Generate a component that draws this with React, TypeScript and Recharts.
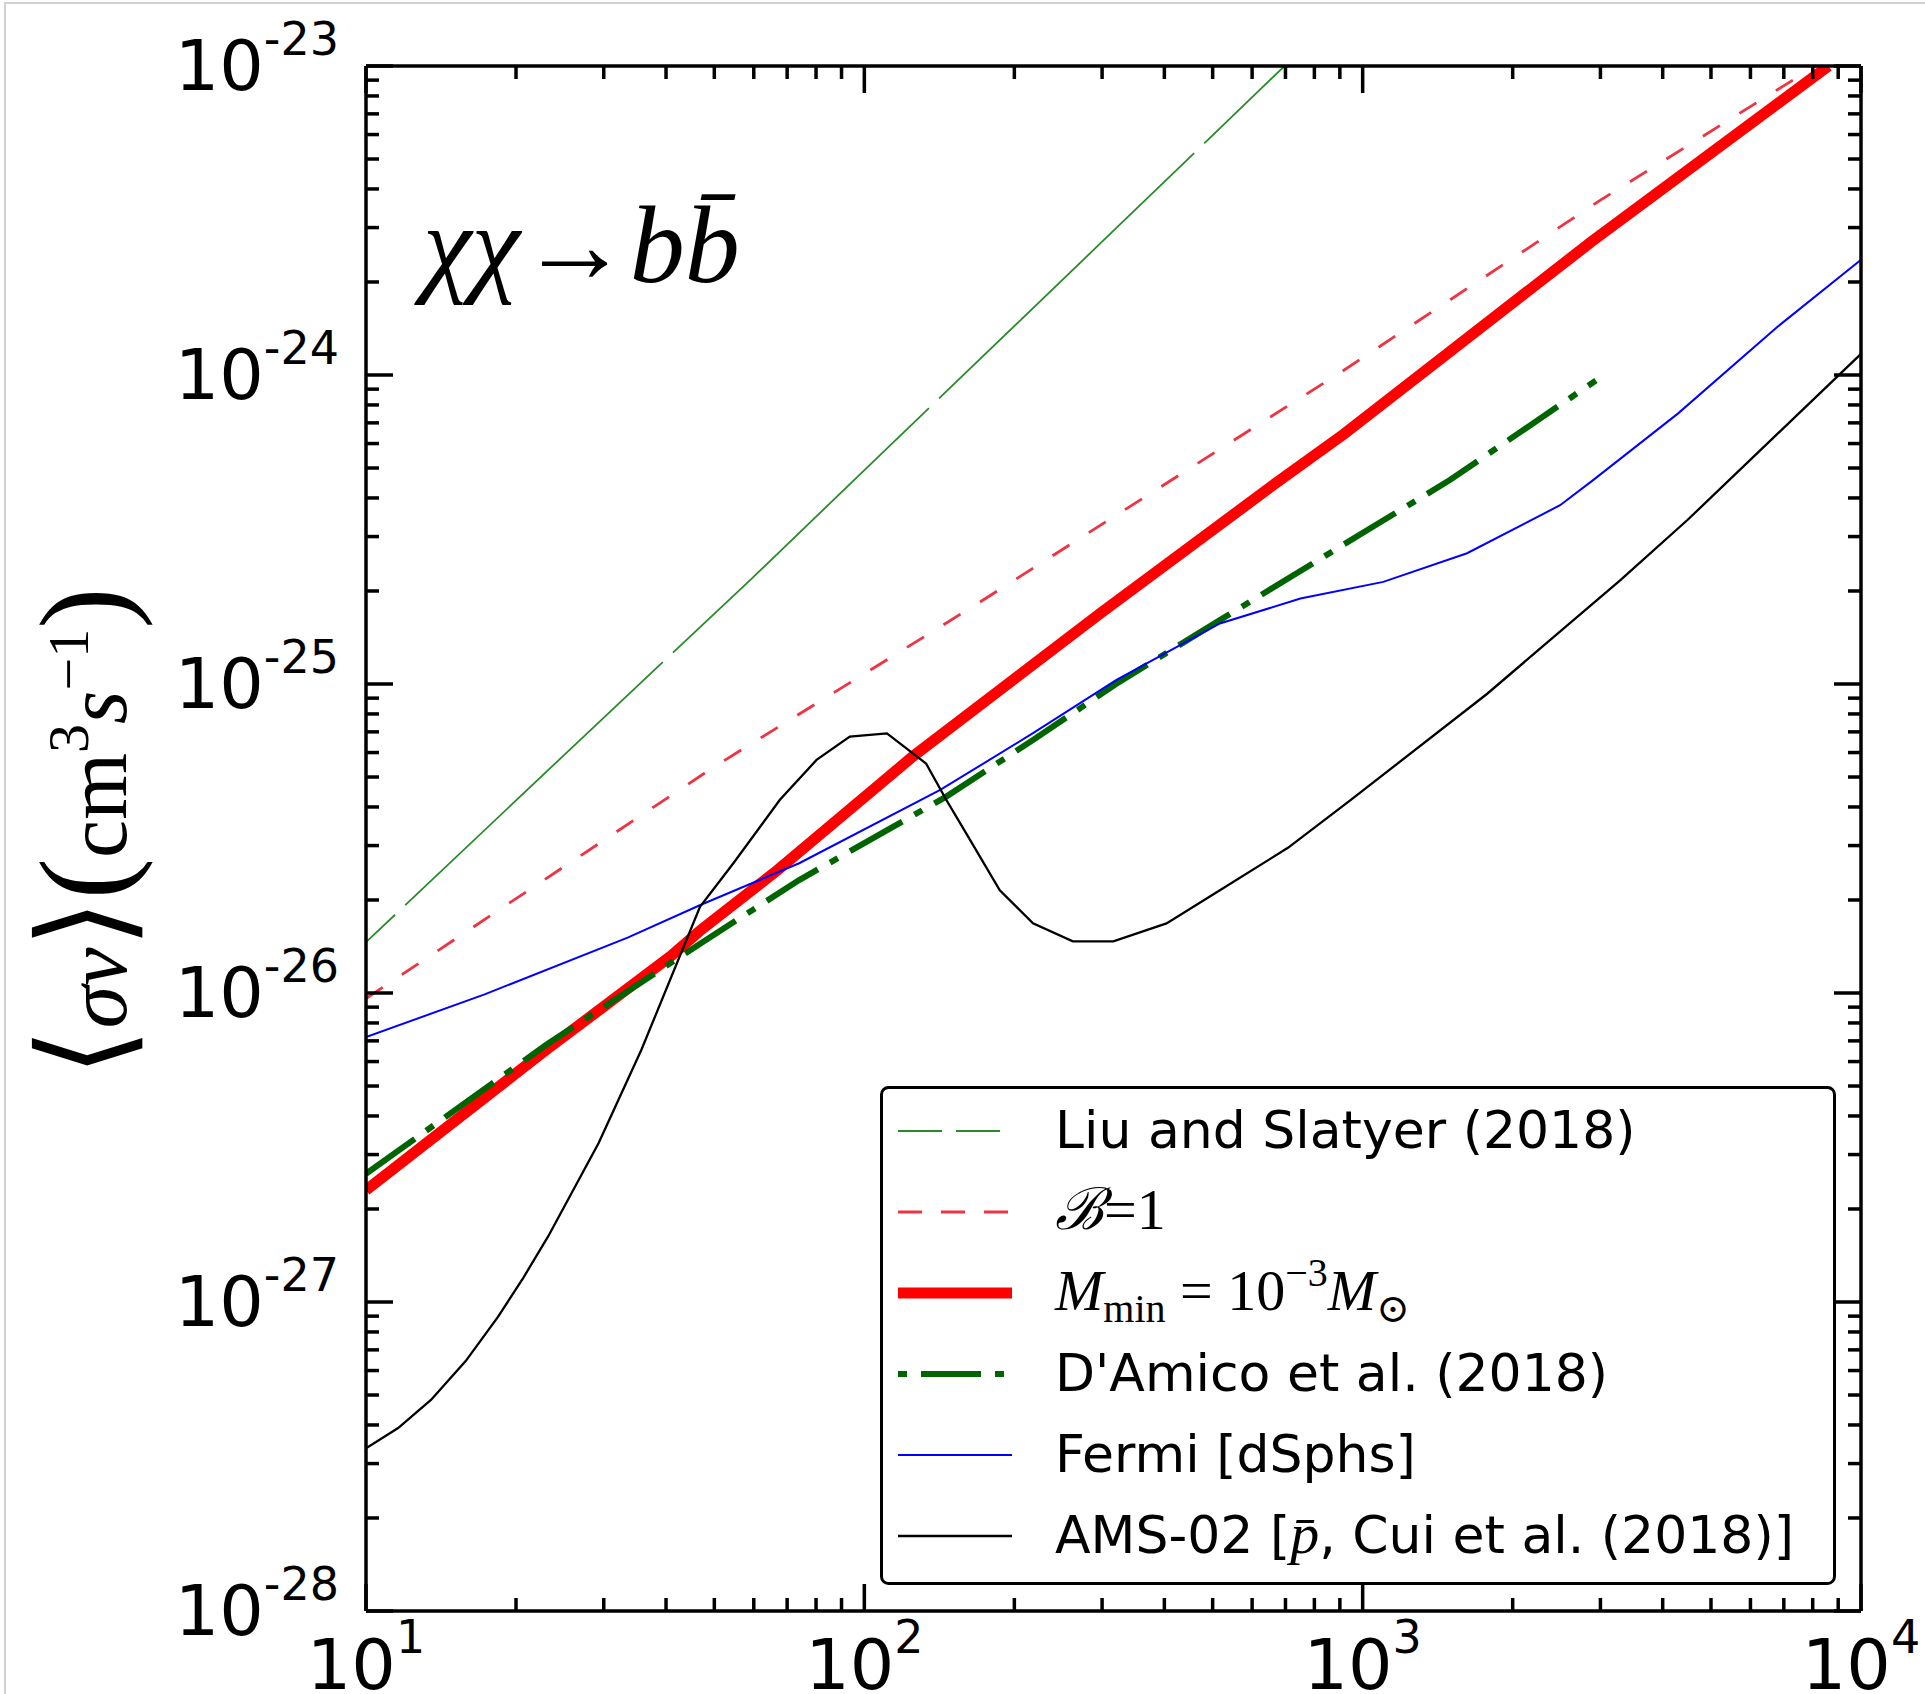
import React from 'react';
import { LineChart, Line, XAxis, YAxis, Legend, Customized } from 'recharts';

const WIDTH = 1925;
const HEIGHT = 1694;
const PLOT_LEFT = 366;
const PLOT_TOP = 66;
const PLOT_RIGHT = 1861;
const PLOT_BOTTOM = 1611;

const SANS = "'DejaVu Sans', sans-serif";
const MATH = "'Liberation Serif', 'DejaVu Serif', serif";

// dark matter mass (GeV) against <sigma v> (cm^3 s^-1)
const liuMass = [10, 25, 59, 110, 300, 697];
const liuSigma = [1.46e-26, 5.9e-26, 2.17e-25, 5.7e-25, 2.7e-24, 1.0e-23];

const boostMass = [10, 50, 165, 920, 3000, 8100];
const boostSigma = [9.6e-27, 5.4e-26, 1.78e-25, 1.04e-24, 3.68e-24, 1.0e-23];

const mminMass = [10, 23, 41, 47, 67, 125, 297, 661, 918, 2870, 8600];
const mminSigma = [2.3e-27, 6.55e-27, 1.32e-26, 1.6e-26, 2.5e-26, 5.82e-26, 1.69e-25, 4.4e-25, 6.45e-25, 2.69e-24, 1.0e-23];

const damicoMass = [10, 23, 47, 74, 146, 218, 320, 517, 1072, 1496, 2938];
const damicoSigma = [2.6e-27, 6.8e-27, 1.45e-26, 2.32e-26, 4.32e-26, 6.59e-26, 1.0e-25, 1.61e-25, 3.3e-25, 4.57e-25, 9.6e-25];

const fermiMass = [10, 17.3, 33.5, 47, 74, 142, 218, 320, 517, 750, 1100, 1620, 2490, 2900, 4290, 6790, 10000];
const fermiSigma = [7.2e-27, 9.9e-27, 1.51e-26, 1.93e-26, 2.63e-26, 4.54e-26, 6.93e-26, 1.03e-25, 1.57e-25, 1.89e-25, 2.14e-25, 2.65e-25, 3.79e-25, 4.57e-25, 7.5e-25, 1.43e-24, 2.36e-24];

const amsMass = [10, 11.6, 13.5, 15.85, 18.4, 20.7, 23.2, 29.3, 35.7, 46.8, 54.6, 67.7, 80.2, 93.5, 111, 133, 146, 160, 187, 218, 262, 316, 404, 517, 708, 944, 1778, 3290, 4490, 10000];
const amsSigma = [3.36e-28, 3.91e-28, 4.82e-28, 6.44e-28, 8.95e-28, 1.2e-27, 1.63e-27, 3.27e-27, 6.55e-27, 1.9e-26, 2.63e-26, 4.22e-26, 5.68e-26, 6.76e-26, 6.92e-26, 5.53e-26, 4.22e-26, 3.29e-26, 2.15e-26, 1.68e-26, 1.47e-26, 1.47e-26, 1.68e-26, 2.15e-26, 2.95e-26, 4.2e-26, 9.3e-26, 2.17e-25, 3.4e-25, 1.17e-24];

const xDecades = [10, 100, 1000, 10000];
const yDecades = [1e-28, 1e-27, 1e-26, 1e-25, 1e-24, 1e-23];

// decade ticks plus 2..9 minor ticks in between
const withMinor = (decades: number[]) =>
  decades.flatMap((d, i) => (i === decades.length - 1 ? [d] : [1, 2, 3, 4, 5, 6, 7, 8, 9].map(m => m * d)));

const xTicks = withMinor(xDecades);
const yTicks = withMinor(yDecades);

const toPoints = (mass: number[], sigma: number[]) => mass.map((m, i) => ({ mass: m, sigma: sigma[i] }));

type Series = {
  id: string;
  name: string;
  data: { mass: number; sigma: number }[];
  stroke: string;
  width: number;
  dash?: string;
  offset?: number;
  legendDash?: string;
  legendOffset?: number;
};

const series: Series[] = [
  { id: 'liu', name: 'Liu and Slatyer (2018)', data: toPoints(liuMass, liuSigma), stroke: '#2a8a2a', width: 1.8, dash: '354 14', offset: 314, legendDash: '44 14' },
  { id: 'boost', name: 'B=1', data: toPoints(boostMass, boostSigma), stroke: '#ee3342', width: 2.8, dash: '20 23', legendDash: '24 19' },
  { id: 'mmin', name: 'Mmin', data: toPoints(mminMass, mminSigma), stroke: '#ff0000', width: 11 },
  { id: 'damico', name: "D'Amico et al. (2018)", data: toPoints(damicoMass, damicoSigma), stroke: '#006400', width: 6, dash: '60 14 9 14', legendDash: '60 14 9 14', legendOffset: 74 },
  { id: 'fermi', name: 'Fermi [dSphs]', data: toPoints(fermiMass, fermiSigma), stroke: '#0000ff', width: 2 },
  { id: 'ams', name: 'AMS-02', data: toPoints(amsMass, amsSigma), stroke: '#000000', width: 2.3 },
];

const MAJOR = 27;
const MINOR = 13;
const TICK_W = 3.5;

const isDecade = (v: number) => {
  const e = Math.round(Math.log10(v));
  return Math.abs(v / Math.pow(10, e) - 1) < 1e-6;
};
const exponent = (v: number) => Math.round(Math.log10(v));

function BottomTick(props: any) {
  const { x, y, payload } = props;
  const major = isDecade(payload.value);
  return (
    <g>
      <line x1={x} x2={x} y1={y} y2={y - (major ? MAJOR : MINOR)} stroke="#000" strokeWidth={TICK_W} />
      {major && (
        <text x={x} y={y + 78} textAnchor="middle" fontFamily={SANS} fill="#000">
          <tspan fontSize={70}>10</tspan>
          <tspan fontSize={46} dy={-36}>{exponent(payload.value)}</tspan>
        </text>
      )}
    </g>
  );
}

function TopTick(props: any) {
  const { x, y, payload } = props;
  const major = isDecade(payload.value);
  return <line x1={x} x2={x} y1={y} y2={y + (major ? MAJOR : MINOR)} stroke="#000" strokeWidth={TICK_W} />;
}

function LeftTick(props: any) {
  const { x, y, payload } = props;
  const major = isDecade(payload.value);
  return (
    <g>
      <line x1={x} x2={x + (major ? MAJOR : MINOR)} y1={y} y2={y} stroke="#000" strokeWidth={TICK_W} />
      {major && (
        <text x={x - 27} y={y + 24} textAnchor="end" fontFamily={SANS} fill="#000">
          <tspan fontSize={70}>10</tspan>
          <tspan fontSize={46} dy={-35}>{exponent(payload.value)}</tspan>
        </text>
      )}
    </g>
  );
}

function RightTick(props: any) {
  const { x, y, payload } = props;
  const major = isDecade(payload.value);
  return <line x1={x} x2={x - (major ? MAJOR : MINOR)} y1={y} y2={y} stroke="#000" strokeWidth={TICK_W} />;
}

function LegendLabel({ s, x, y }: { s: Series; x: number; y: number }) {
  if (s.id === 'boost') {
    return (
      <text x={x} y={y} fontFamily={MATH} fontSize={58} fill="#000">
        <tspan fontStyle="italic">ℬ</tspan>
        <tspan>=1</tspan>
      </text>
    );
  }
  if (s.id === 'mmin') {
    return (
      <text x={x} y={y} fontFamily={MATH} fontSize={58} fill="#000">
        <tspan fontStyle="italic">M</tspan>
        <tspan fontSize={40} dy={12}>min</tspan>
        <tspan dy={-12}>{' = 10'}</tspan>
        <tspan fontSize={40} dy={-24}>−3</tspan>
        <tspan fontStyle="italic" dy={24}>M</tspan>
        <tspan fontSize={40} dy={12}>⊙</tspan>
      </text>
    );
  }
  if (s.id === 'ams') {
    return (
      <text x={x} y={y} fontFamily={SANS} fontSize={52} fill="#000">
        {'AMS-02 ['}
        <tspan fontFamily={MATH} fontStyle="italic" fontSize={58}>p̄</tspan>
        {', Cui et al. (2018)]'}
      </text>
    );
  }
  return (
    <text x={x} y={y} fontFamily={SANS} fontSize={52} fill="#000">
      {s.name}
    </text>
  );
}

function LegendBox() {
  return (
    <svg width={956} height={499} style={{ display: 'block' }}>
      <rect x={1.5} y={1.5} width={953} height={496} rx={7} fill="#fff" stroke="#000" strokeWidth={3} />
      {series.map((s, i) => {
        const base = 62 + i * 81;
        return (
          <g key={s.id}>
            <line
              x1={18}
              x2={132}
              y1={base - 17}
              y2={base - 17}
              stroke={s.stroke}
              strokeWidth={s.width}
              strokeDasharray={s.legendDash}
              strokeDashoffset={s.legendOffset}
            />
            <LegendLabel s={s} x={175} y={base} />
          </g>
        );
      })}
    </svg>
  );
}

function Annotations() {
  return (
    <g>
      <text x={423} y={282} fontFamily={MATH} fontSize={110} fontStyle="italic" fill="#000">
        χχ<tspan fontStyle="normal">→</tspan>bb̄
      </text>
      <text transform="rotate(-90 126 832)" x={126} y={832} textAnchor="middle" fontFamily={MATH} fill="#000">
        <tspan fontSize={124}>⟨</tspan>
        <tspan fontSize={86} fontStyle="italic">σv</tspan>
        <tspan fontSize={124}>⟩</tspan>
        <tspan fontSize={124}>(</tspan>
        <tspan fontSize={86}>cm</tspan>
        <tspan fontSize={58} dy={-38}>3</tspan>
        <tspan fontSize={86} fontStyle="italic" dy={38}>s</tspan>
        <tspan fontSize={58} dy={-38}>−1</tspan>
        <tspan fontSize={124} dy={38}>)</tspan>
      </text>
    </g>
  );
}

export default function App() {
  return (
    <div style={{ position: 'absolute', left: 0, top: 0, width: WIDTH, height: HEIGHT, background: '#fff' }}>
      <div
        style={{
          position: 'absolute',
          left: 4,
          top: 2,
          right: 0,
          bottom: 0,
          borderTop: '2px solid #d2d2d2',
          borderLeft: '2px solid #d2d2d2',
          pointerEvents: 'none',
        }}
      />
      <LineChart width={WIDTH} height={HEIGHT} margin={{ top: 0, right: 0, bottom: 0, left: 0 }}>
        <XAxis
          dataKey="mass"
          type="number"
          scale="log"
          domain={[10, 10000]}
          allowDataOverflow
          ticks={xTicks}
          interval={0}
          height={HEIGHT - PLOT_BOTTOM}
          tickSize={0}
          tickMargin={0}
          tick={<BottomTick />}
          axisLine={{ stroke: '#000', strokeWidth: 3.5 }}
        />
        <XAxis
          xAxisId="top"
          orientation="top"
          dataKey="mass"
          type="number"
          scale="log"
          domain={[10, 10000]}
          allowDataOverflow
          ticks={xTicks}
          interval={0}
          height={PLOT_TOP}
          tickSize={0}
          tickMargin={0}
          tick={<TopTick />}
          axisLine={{ stroke: '#000', strokeWidth: 3.5 }}
        />
        <YAxis
          type="number"
          scale="log"
          domain={[1e-28, 1e-23]}
          allowDataOverflow
          ticks={yTicks}
          interval={0}
          width={PLOT_LEFT}
          tickSize={0}
          tickMargin={0}
          tick={<LeftTick />}
          axisLine={{ stroke: '#000', strokeWidth: 3.5 }}
        />
        <YAxis
          yAxisId="right"
          orientation="right"
          type="number"
          scale="log"
          domain={[1e-28, 1e-23]}
          allowDataOverflow
          ticks={yTicks}
          interval={0}
          width={WIDTH - PLOT_RIGHT}
          tickSize={0}
          tickMargin={0}
          tick={<RightTick />}
          axisLine={{ stroke: '#000', strokeWidth: 3.5 }}
        />
        {series.map(s => (
          <Line
            key={s.id}
            data={s.data}
            dataKey="sigma"
            name={s.name}
            type="linear"
            stroke={s.stroke}
            strokeWidth={s.width}
            strokeDasharray={s.dash}
            strokeDashoffset={s.offset}
            dot={false}
            activeDot={false}
            isAnimationActive={false}
          />
        ))}
        <Customized component={Annotations} />
        <Legend
          layout="horizontal"
          verticalAlign="middle"
          align="center"
          wrapperStyle={{ left: 880, top: 1086, width: 956, height: 499 }}
          content={() => <LegendBox />}
        />
      </LineChart>
    </div>
  );
}
